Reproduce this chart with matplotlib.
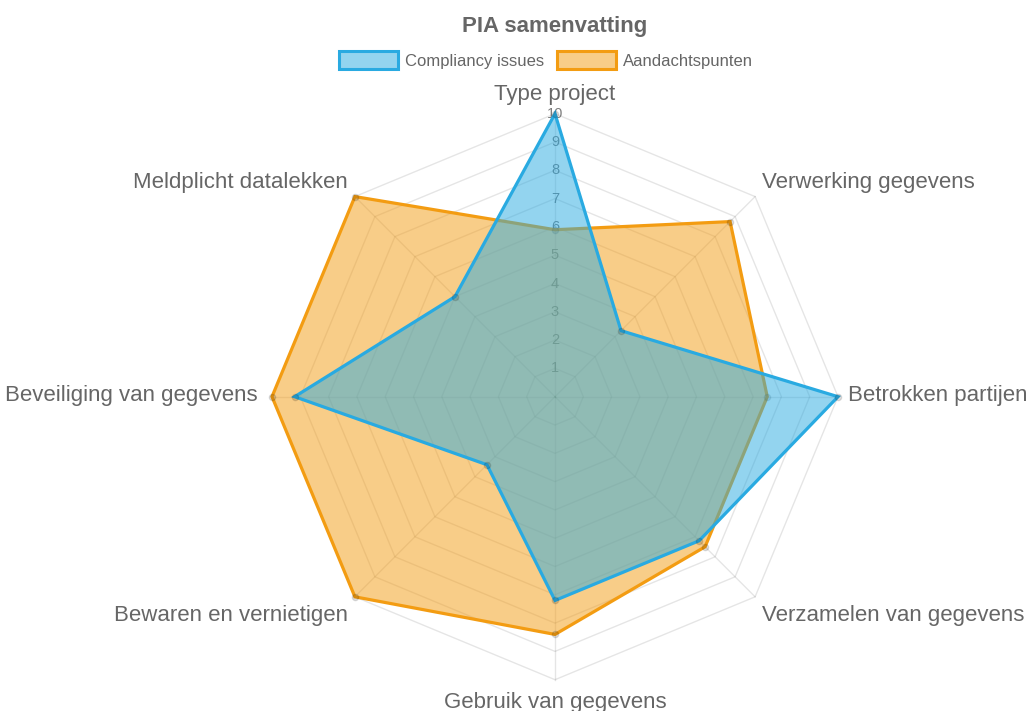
import numpy as np
import matplotlib.pyplot as plt
from matplotlib.patches import Patch

# PIA samenvatting - radar chart
categories = ["Type project", "Verwerking gegevens", "Betrokken partijen",
              "Verzamelen van gegevens", "Gebruik van gegevens",
              "Bewaren en vernietigen", "Beveiliging van gegevens",
              "Meldplicht datalekken"]
compliancy = [10, 3.3, 10, 7.2, 7.2, 3.4, 9.2, 5]
aandacht = [5.9, 8.75, 7.5, 7.5, 8.4, 10, 10, 10]
levels = list(range(1, 11))

plt.rcParams['font.family'] = ['Liberation Sans', 'DejaVu Sans']

W, H = 1028, 711
cx, cy, scale = 555, 396.7, 28.3   # centre in pixels, pixels per unit

blue = (41/255, 170/255, 225/255)
orange = (243/255, 156/255, 18/255)
grid_col = (0, 0, 0, 0.1)
text_col = '#666666'

fig = plt.figure(figsize=(W / 100, H / 100), dpi=100)
ax = fig.add_axes([0, 0, 1, 1])
ax.set_xlim(-cx / scale, (W - cx) / scale)
ax.set_ylim(-(H - cy) / scale, cy / scale)
ax.axis('off')

n = len(categories)
angles = np.arange(n) * 2 * np.pi / n


def to_xy(values):
    r = np.asarray(values, dtype=float)
    return r * np.sin(angles), r * np.cos(angles)


# grid polygons and spokes
for lvl in levels:
    gx, gy = to_xy([lvl] * n)
    ax.plot(np.append(gx, gx[0]), np.append(gy, gy[0]), color=grid_col, lw=1.0, zorder=1)
sx, sy = to_xy([max(levels)] * n)
for x, y in zip(sx, sy):
    ax.plot([0, x], [0, y], color=grid_col, lw=1.0, zorder=1)

# tick labels along vertical axis
for lvl in levels:
    ax.text(0, lvl, str(lvl), ha='center', va='center', fontsize=10.5,
            color=text_col, alpha=0.85, zorder=2)

# point labels
offsets = [((0, 9), 'center', 'bottom'), ((7, 4), 'left', 'bottom'),
           ((10, 1), 'left', 'center'), ((7, -8), 'left', 'top'),
           ((0, -12), 'center', 'top'), ((-7, -8), 'right', 'top'),
           ((-14, 1), 'right', 'center'), ((-7, 4), 'right', 'bottom')]
for (x, y), name, (off, ha, va) in zip(zip(sx, sy), categories, offsets):
    ax.annotate(name, (x, y), xytext=off, textcoords='offset pixels',
                ha=ha, va=va, fontsize=16, color=text_col)

# datasets (orange below blue)
for vals, col, z in [(aandacht, orange, 3), (compliancy, blue, 4)]:
    dx, dy = to_xy(vals)
    ax.fill(dx, dy, facecolor=(*col, 0.5), edgecolor=col, lw=2.3,
            joinstyle='miter', zorder=z)
    ax.plot(dx, dy, 'o', ms=4.5, mfc=(0, 0, 0, 0.12), mec=(0, 0, 0, 0.12), zorder=z + 0.5)

fig.text(555 / W, 1 - 32 / H, "PIA samenvatting", ha='center', va='baseline',
         fontsize=16, fontweight='bold', color=text_col)

handles = [Patch(facecolor=(*blue, 0.5), edgecolor=blue, lw=2.2, label="Compliancy issues"),
           Patch(facecolor=(*orange, 0.5), edgecolor=orange, lw=2.2, label="Aandachtspunten")]
fig.legend(handles=handles, loc='center', bbox_to_anchor=(546 / W, 1 - 60 / H), ncol=2,
           frameon=False, fontsize=12, handlelength=3.5, handleheight=1.2,
           handletextpad=0.42, columnspacing=0.8, labelcolor=text_col)

fig.savefig('out.png', dpi=100)
